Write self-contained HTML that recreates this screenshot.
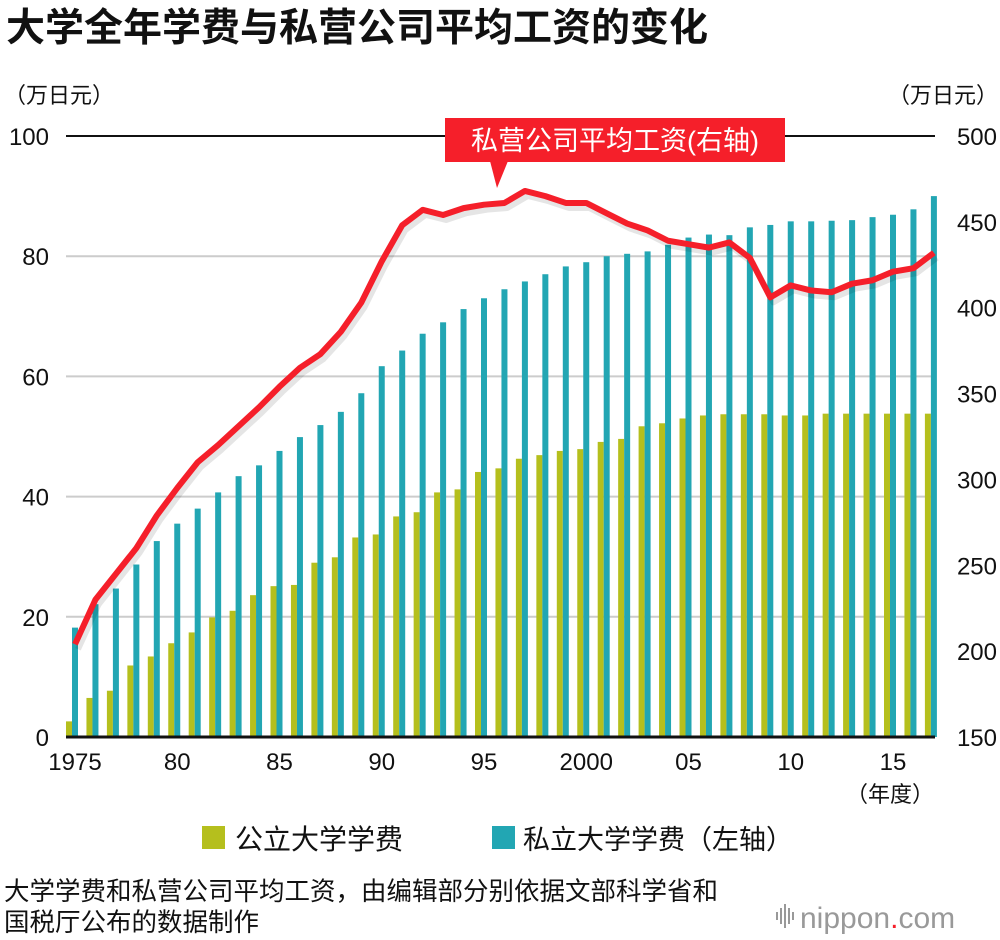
<!DOCTYPE html>
<html><head><meta charset="utf-8"><style>
body{margin:0;background:#fff;font-family:"Liberation Sans","Noto Sans CJK SC",sans-serif;}
#wrap{position:relative;width:1000px;height:940px;overflow:hidden;}
</style></head><body>
<div id="wrap">
<svg id="chart" width="1000" height="940" style="font-family:'Liberation Sans','Noto Sans CJK SC',sans-serif">
<text x="6" y="41" font-size="39" font-weight="bold" fill="#111">大学全年学费与私营公司平均工资的变化</text>
<text x="4" y="103" font-size="22" fill="#111">（万日元）</text>
<text x="998" y="103" font-size="22" fill="#111" text-anchor="end">（万日元）</text>
<g id="grid"></g><g id="bars"></g><g id="line"></g><g id="axes"></g>
<g>
<rect x="445" y="118" width="340" height="44" fill="#f51f2a"/>
<polygon points="490,161 508,161 497,188" fill="#f51f2a"/>
<text x="615" y="150" font-size="27" fill="#fff" text-anchor="middle">私营公司平均工资(右轴)</text>
</g>
<text x="934" y="802" font-size="22" fill="#111" text-anchor="end">（年度）</text>
<rect x="202" y="826" width="23" height="23" fill="#b5bf1d"/>
<text x="235" y="849" font-size="28" fill="#111">公立大学学费</text>
<rect x="492" y="826" width="23" height="23" fill="#22a6b3"/>
<text x="523" y="849" font-size="27" fill="#111">私立大学学费（左轴）</text>
<text x="4" y="900" font-size="25.5" fill="#111">大学学费和私营公司平均工资，由编辑部分别依据文部科学省和</text>
<text x="4" y="931" font-size="25.5" fill="#111">国税厅公布的数据制作</text>
<g>
<g fill="#999"><rect x="776" y="912" width="2" height="8"/><rect x="780" y="908" width="2" height="16"/><rect x="784" y="904" width="2" height="24"/><rect x="788" y="908" width="2" height="16"/><rect x="792" y="912" width="2" height="8"/></g>
<text x="800" y="928" font-size="30" fill="#999">nippon<tspan fill="#f51f2a">.</tspan>com</text>
</g>
</svg>
</div>
<script>
const years=[1975,1976,1977,1978,1979,1980,1981,1982,1983,1984,1985,1986,1987,1988,1989,1990,1991,1992,1993,1994,1995,1996,1997,1998,1999,2000,2001,2002,2003,2004,2005,2006,2007,2008,2009,2010,2011,2012,2013,2014,2015,2016,2017];
const publicFee=[2.6,6.5,7.7,11.9,13.4,15.6,17.4,19.9,21.0,23.6,25.1,25.3,29.0,29.9,33.2,33.7,36.7,37.4,40.7,41.2,44.1,44.7,46.3,46.9,47.6,47.9,49.1,49.6,51.7,52.2,53.0,53.5,53.7,53.7,53.7,53.5,53.5,53.8,53.8,53.8,53.8,53.8,53.8];
const privateFee=[18.2,22.1,24.7,28.7,32.6,35.5,38.0,40.7,43.4,45.2,47.6,49.9,51.9,54.1,57.2,61.7,64.3,67.1,69.0,71.2,73.0,74.5,75.8,77.0,78.3,79.0,80.0,80.4,80.8,81.9,83.1,83.6,83.5,84.8,85.2,85.8,85.8,85.9,86.0,86.5,86.9,87.8,90.0];
const wage=[204,230,245,260,279,295,310,320,331,342,354,365,373,386,403,427,448,457,454,458,460,461,468,465,461,461,455,449,445,439,437,435,438,429,406,413,410,409,414,416,421,423,432];
const leftTicks=[0,20,40,60,80,100];
const rightTicks=[150,200,250,300,350,400,450,500];
const xTickYears=[1975,1980,1985,1990,1995,2000,2005,2010,2015];
const xTickLabels=["1975","80","85","90","95","2000","05","10","15"];
const NS="http://www.w3.org/2000/svg";
const X0=66,X1=935,Y0=737,Y1=136;
function xs(y){return 72+(y-1975)*20.45;}
function yl(v){return Y0-(v/100)*(Y0-Y1);}
function yr(v){return Y0-((v-150)/350)*(Y0-Y1);}
function mk(tag,attrs,parent){const e=document.createElementNS(NS,tag);for(const k in attrs)e.setAttribute(k,attrs[k]);parent.appendChild(e);return e;}
const grid=document.getElementById('grid'),bars=document.getElementById('bars'),line=document.getElementById('line'),axes=document.getElementById('axes');
leftTicks.forEach(t=>{
  if(t===0)return;
  const g=mk('line',{x1:X0,x2:X1,y1:yl(t),y2:yl(t),stroke:t===100?'#111':'#ccc','stroke-width':2},grid);
  
  
  const tx=mk('text',{x:49,y:yl(t)+9,'font-size':24,'text-anchor':'end',fill:'#111'},axes);
  tx.textContent=t;
  
  
});
const z=mk('text',{x:49,y:Y0+9,'font-size':24,'text-anchor':'end',fill:'#111'},axes);z.textContent='0';


rightTicks.forEach(t=>{
  const tx=mk('text',{x:997,y:yr(t)+9,'font-size':24,'text-anchor':'end',fill:'#111'},axes);
  tx.textContent=t;
  
  
});
years.forEach((yr_,i)=>{
  const x=xs(yr_);
  const g=mk('rect',{x:x-6,y:yl(publicFee[i]),width:6,height:Y0-yl(publicFee[i]),fill:'#b5bf1d'},bars);
  
  
  const t=mk('rect',{x:x,y:yl(privateFee[i]),width:6,height:Y0-yl(privateFee[i]),fill:'#22a6b3'},bars);
  
  
});
const pts=years.map((y,i)=>(xs(y)+3)+','+yr(wage[i])).join(' ');
const sh=mk('polyline',{points:pts,fill:'none',stroke:'rgba(0,0,0,0.1)','stroke-width':6,transform:'translate(3,5)','stroke-linejoin':'round'},line);


const pl=mk('polyline',{points:pts,fill:'none',stroke:'#f51f2a','stroke-width':6,'stroke-linejoin':'round'},line);


const base=mk('line',{x1:X0,x2:X1,y1:Y0,y2:Y0,stroke:'#111','stroke-width':3},axes);


xTickYears.forEach((y,i)=>{
  const tx=mk('text',{x:xs(y)+3,y:770,'font-size':24,'text-anchor':'middle',fill:'#111'},axes);
  tx.textContent=xTickLabels[i];
  
  
});
</script>
</body></html>
